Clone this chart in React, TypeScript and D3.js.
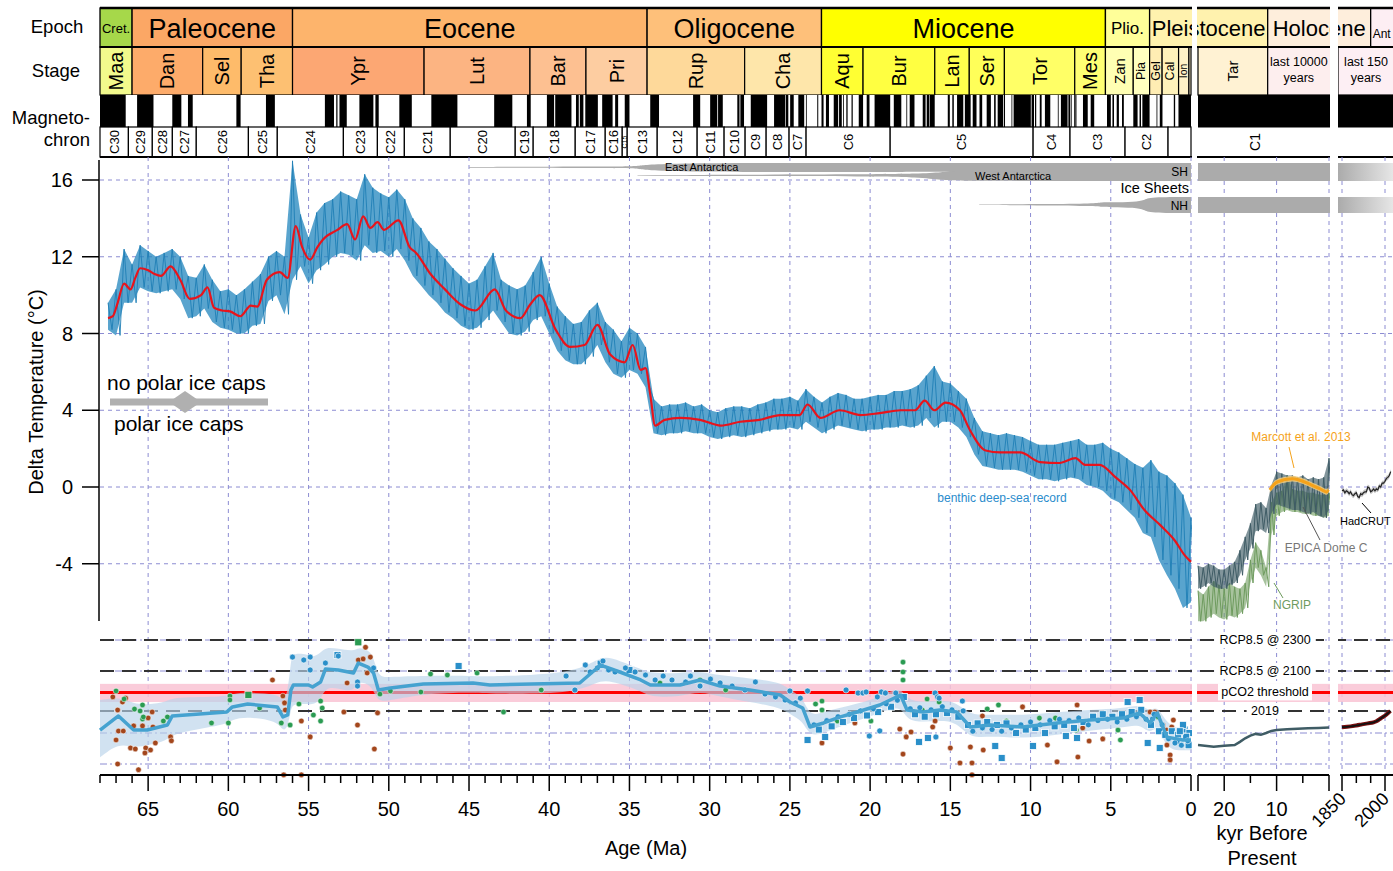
import React from 'react';
import * as d3 from 'd3';

// ================= DATA =================
// Geologic time scale (Ma)
const epochNames = ['Cret.', 'Paleocene', 'Eocene', 'Oligocene', 'Miocene', 'Plio.', 'Pleistocene'];
const epochBounds = [68, 66, 56, 33.9, 23.03, 5.333, 2.58, 0];
const epochColors = ['#a6d84a', '#fba765', '#fdb46c', '#fec07a', '#ffff00', '#ffff99', '#fff2ae'];

const stageNames = ['Maa', 'Dan', 'Sel', 'Tha', 'Ypr', 'Lut', 'Bar', 'Pri', 'Rup', 'Cha', 'Aqu', 'Bur', 'Lan', 'Ser', 'Tor', 'Mes', 'Zan', 'Pia', 'Gel', 'Cal', 'Ion', 'Tar'];
const stageBounds = [68, 66, 61.6, 59.2, 56, 47.8, 41.2, 37.71, 33.9, 27.82, 23.03, 20.44, 15.97, 13.82, 11.63, 7.246, 5.333, 3.6, 2.58, 1.8, 0.774, 0.129, 0];
const stageColors = ['#f2fa8c', '#fdab6a', '#febb6a', '#fdc072', '#fca773', '#fcb482', '#fdc091', '#fdcda1', '#fed99a', '#fee6aa', '#ffff33', '#ffff41', '#ffff4d', '#ffff59', '#ffff66', '#ffff73', '#ffffb3', '#ffffbf', '#ffedb3', '#fff2ba', '#fff2c7', '#fff2d3'];

const chronNames = ['C30', 'C29', 'C28', 'C27', 'C26', 'C25', 'C24', 'C23', 'C22', 'C21', 'C20', 'C19', 'C18', 'C17', 'C16', 'C15', 'C13', 'C12', 'C11', 'C10', 'C9', 'C8', 'C7', 'C6', 'C5', 'C4', 'C3', 'C2', ''];
const chronBounds = [68, 66.23, 64.74, 63.49, 62.0, 58.75, 56.95, 52.83, 50.71, 49.03, 46.17, 42.12, 41.0, 38.38, 36.51, 35.45, 35.14, 33.27, 30.78, 29.1, 27.79, 26.48, 25.05, 23.99, 18.75, 9.84, 7.54, 4.11, 1.43, 0];

// normal polarity intervals [young, old] Ma
const normalPolarity = [
  [0, 0.781], [0.988, 1.072], [1.778, 1.945], [2.128, 2.148], [2.581, 3.032], [3.116, 3.207], [3.33, 3.596], [4.187, 4.3], [4.493, 4.631], [4.799, 4.896], [4.997, 5.235], [6.033, 6.252], [6.436, 6.733], [7.14, 7.212], [7.251, 7.285], [7.454, 7.489], [7.528, 7.642], [7.695, 8.108], [8.254, 8.3], [8.771, 9.105], [9.311, 9.426], [9.647, 9.721], [9.786, 9.937], [9.984, 11.056], [11.146, 11.188], [11.592, 11.657], [11.705, 12.049], [12.174, 12.272], [12.474, 12.735], [13.015, 13.183], [13.369, 13.605], [13.734, 14.095], [14.194, 14.581], [14.784, 14.877], [15.032, 15.16], [15.974, 16.268], [16.303, 16.472], [16.543, 16.721], [17.235, 17.533], [17.717, 17.74], [18.056, 18.524], [18.748, 19.722], [20.04, 20.213], [20.439, 20.709], [21.083, 21.159], [21.403, 21.483], [21.659, 21.688], [21.767, 21.936], [21.992, 22.268], [22.564, 22.754], [22.902, 23.03], [23.233, 23.295], [23.962, 24.0], [24.109, 24.474], [24.761, 24.984], [25.099, 25.264], [25.304, 25.987], [26.42, 27.439], [27.859, 28.087], [28.141, 28.278], [29.183, 29.477], [29.527, 29.97], [30.591, 31.034], [33.157, 33.705], [34.999, 35.294], [35.706, 35.892], [36.051, 36.7], [36.969, 37.753], [37.872, 38.093], [38.159, 38.333], [38.615, 39.627], [39.698, 40.145], [41.154, 41.39], [42.301, 43.432], [45.724, 47.349], [48.566, 49.344], [50.628, 50.835], [50.961, 51.833], [52.62, 53.074], [53.199, 53.274], [53.416, 53.983], [57.101, 57.656], [59.237, 59.5], [62.221, 62.517], [62.93, 63.494], [64.667, 65.688], [66.398, 68.0]
];

// Ice sheets [age Ma, top, bottom] in band units
const eastAntarctica = [[45, 0.22, 0.26], [36, 0.2, 0.28], [34.2, 0.18, 0.3], [33.6, 0, 0.5], [18, 0, 0.5], [16.5, 0, 0.47], [15, 0, 0.5], [0, 0, 0.5]];
const westAntarctica = [[34.5, 0.67, 0.7], [28, 0.65, 0.72], [20, 0.63, 0.74], [17, 0.6, 0.78], [15.5, 0.5, 0.95], [14.5, 0.45, 1], [0, 0.45, 1]];
const northernHemisphere = [[13.2, 0.47, 0.5], [9, 0.44, 0.53], [6, 0.42, 0.56], [5.6, 0.33, 0.62], [5, 0.34, 0.63], [3.5, 0.32, 0.66], [2.9, 0.2, 0.8], [2.6, 0, 1], [0, 0, 1]];

// Benthic deep-sea temperature record (°C), every 0.5 Ma from 67.5 to 0: high and low envelope
const benthicStart = 67.5;
const benthicStep = 0.5;
const benthicHi = [
  9.6, 10.3, 12.4, 11.6, 12.6, 12.3, 12.0, 12.2, 12.4, 12.0,
  11.0, 10.9, 11.6, 10.8, 10.2, 10.3, 10.0, 10.3, 10.7, 11.1,
  12.0, 12.3, 12.0, 17.0, 14.2, 13.0, 14.3, 14.8, 15.0, 15.4,
  15.2, 15.0, 16.3, 15.6, 15.3, 15.1, 15.5, 15.0, 14.0, 13.5,
  12.8, 12.4, 11.9, 11.4, 11.0, 10.6, 10.8, 11.5, 12.2, 10.8,
  10.5, 10.3, 10.5, 11.2, 12.0, 10.6, 9.4, 8.9, 8.5, 8.6,
  9.2, 9.6, 8.6, 8.2, 7.6, 8.3, 8.0, 7.3, 4.6, 4.2,
  4.3, 4.3, 4.4, 4.2, 4.3, 4.0, 3.9, 4.1, 4.2, 4.2,
  4.1, 4.3, 4.4, 4.6, 4.6, 4.7, 4.5, 5.1, 4.7, 4.4,
  4.7, 4.9, 4.8, 4.6, 4.6, 4.7, 4.8, 4.8, 5.0, 5.0,
  5.1, 5.3, 5.8, 6.3, 5.5, 5.4, 5.0, 4.6, 3.6, 2.9,
  2.8, 2.7, 2.8, 2.7, 2.6, 2.4, 2.2, 2.2, 2.2, 2.3,
  2.4, 2.5, 2.2, 2.2, 2.3, 2.0, 1.8, 1.5, 1.2, 1.0,
  1.4, 0.8, 0.6, 0.2, -0.4, -1.6
];
const benthicLo = [
  8.2, 7.9, 9.6, 9.6, 10.4, 10.2, 10.1, 10.2, 10.3, 9.8,
  8.8, 8.9, 9.3, 8.6, 8.3, 8.2, 8.0, 8.0, 8.4, 8.5,
  9.7, 10.0, 9.0, 10.8, 11.5, 10.6, 11.3, 11.6, 12.0, 12.2,
  12.1, 11.8, 12.6, 12.2, 12.3, 12.0, 12.4, 11.8, 11.0, 10.5,
  10.0, 9.6, 9.1, 8.8, 8.4, 8.2, 8.3, 8.7, 9.2, 8.6,
  8.0, 7.9, 8.1, 8.7, 8.9, 8.0, 7.1, 6.6, 6.4, 6.4,
  6.8, 7.4, 6.5, 5.9, 5.7, 6.1, 5.9, 5.2, 2.8, 2.7,
  2.8, 2.8, 2.9, 2.8, 2.8, 2.6, 2.5, 2.6, 2.7, 2.6,
  2.7, 2.8, 2.9, 3.0, 3.0, 3.1, 3.0, 3.4, 3.1, 2.8,
  3.0, 3.2, 3.1, 3.0, 2.9, 3.0, 3.0, 3.1, 3.1, 3.2,
  3.1, 3.2, 3.6, 3.1, 3.4, 3.4, 3.1, 2.6, 1.7, 1.1,
  1.0, 0.9, 0.9, 0.9, 0.8, 0.6, 0.4, 0.4, 0.3, 0.4,
  0.5, 0.4, 0.1, 0.0, -0.2, -0.6, -0.8, -1.2, -1.6, -2.4,
  -2.6, -3.8, -4.6, -5.3, -6.3, -6.0
];

// Smoothed benthic record [age Ma, °C]
const benthicSmooth = [
  [67.5, 8.8], [67.2, 8.9], [66.9, 9.6], [66.5, 10.6], [66.1, 10.3], [65.8, 10.9], [65.5, 11.4], [65.0, 11.3], [64.6, 11.1], [64.2, 11.0], [63.6, 11.5], [63.0, 10.8], [62.4, 9.8], [61.7, 10.0], [61.3, 10.4], [60.9, 9.35], [60.4, 9.2], [59.9, 9.15], [59.25, 8.9], [58.6, 9.45], [58.2, 9.4], [57.6, 10.8], [56.8, 11.2], [56.3, 10.9], [55.8, 13.6], [55.4, 12.5], [54.9, 11.85], [54.45, 12.5], [54.1, 12.9], [53.2, 13.4], [52.6, 13.7], [52.1, 12.9], [51.6, 14.1], [51.15, 13.5], [50.7, 13.8], [50.3, 13.4], [49.4, 13.9], [48.7, 12.5], [48.3, 12.2], [47.4, 11.1], [46.5, 10.3], [45.5, 9.5], [44.6, 9.2], [43.4, 10.3], [42.7, 9.2], [41.8, 8.8], [41.2, 9.5], [40.6, 10.0], [39.6, 8.2], [38.7, 7.3], [37.8, 7.4], [37.0, 8.45], [36.2, 6.9], [35.3, 6.5], [34.8, 7.4], [34.3, 6.1], [34.0, 6.2], [33.7, 4.8], [33.4, 3.2], [32.8, 3.5], [31.8, 3.6], [30.6, 3.5], [29.3, 3.2], [28.1, 3.4], [26.9, 3.5], [25.6, 3.75], [24.4, 3.75], [23.9, 4.3], [23.1, 3.6], [21.9, 4.0], [20.6, 3.75], [19.4, 3.85], [18.1, 4.0], [17.2, 4.0], [16.6, 4.5], [16.0, 4.0], [15.3, 4.4], [14.4, 4.0], [13.8, 3.0], [12.8, 1.9], [11.9, 1.8], [10.65, 1.8], [9.4, 1.3], [8.2, 1.25], [7.2, 1.5], [6.6, 1.15], [5.7, 1.15], [4.7, 0.5], [3.8, -0.15], [2.9, -1.2], [1.9, -2.0], [1.0, -2.8], [0.4, -3.55], [0.0, -3.9]
];

// Last 25 kyr (°C): every 1 kyr from 25 to 0
const kyrStart = 25;
const epicaHi = [-4.1, -4.2, -4.0, -4.1, -4.3, -4.3, -4.1, -3.9, -3.3, -2.6, -1.9, -0.9, -0.8, -1.1, 0.1, 0.8, 0.7, 0.6, 0.6, 0.5, 0.6, 0.4, 0.5, 0.4, 0.5, 1.5];
const epicaLo = [-5.3, -5.2, -5.0, -5.2, -5.3, -5.3, -5.1, -5.0, -4.6, -3.8, -3.2, -2.3, -2.2, -2.4, -1.4, -0.9, -1.0, -1.1, -1.2, -1.2, -1.3, -1.4, -1.3, -1.5, -1.6, -1.2];
const ngripHi = [-5.4, -5.6, -5.2, -4.9, -5.1, -5.3, -5.0, -5.2, -5.3, -5.0, -3.8, -2.9, -3.3, -4.2, -0.8, -0.3, -0.2, 0.6, -0.1, -0.2, -0.2, -0.3, -0.3, -0.4, -0.4, -0.3];
const ngripLo = [-7.0, -7.0, -6.8, -6.6, -6.8, -6.9, -6.7, -6.8, -6.6, -6.3, -5.0, -4.2, -4.6, -5.2, -2.5, -1.5, -1.3, -1.2, -1.3, -1.3, -1.4, -1.4, -1.5, -1.5, -1.6, -1.5];
const marcott = [[11.3, -0.15], [10.5, 0.15], [10, 0.25], [9, 0.35], [8, 0.4], [7, 0.45], [6, 0.4], [5, 0.3], [4, 0.2], [3, 0.05], [2, -0.05], [1, -0.2], [0.4, -0.3], [0.1, -0.15]];

// Instrumental (°C), every 5 years 1850-2020
const hadcrutStart = 1850;
const hadcrut = [-0.2, -0.15, -0.3, -0.2, -0.25, -0.35, -0.25, -0.4, -0.45, -0.35, -0.3, -0.5, -0.55, -0.35, -0.4, -0.3, -0.25, -0.25, 0.0, -0.05, -0.25, -0.2, -0.1, -0.2, -0.1, -0.15, 0.05, 0.0, 0.2, 0.2, 0.3, 0.45, 0.5, 0.6, 0.8];

// CO2 (ppm)
const co2Smooth = [
  [68, 267], [66.85, 366], [65.9, 267], [65.05, 267], [63.8, 299], [63.5, 366], [60.1, 400], [59.75, 448], [58.8, 478], [56.95, 448], [56.6, 358], [56.3, 374], [56.1, 654], [55.95, 731], [55.0, 731], [54.75, 699], [54.25, 782], [53.95, 1044], [53.15, 1023], [52.2, 955], [51.9, 1195], [51.3, 1092], [50.95, 955], [50.65, 654], [49.9, 684], [47.85, 747], [44.75, 765], [43.7, 731], [38.1, 765], [36.8, 1143], [35.6, 978], [34.3, 818], [33.7, 731], [31.85, 731], [30.6, 818], [29.35, 714], [27.5, 654], [25.6, 585], [25.0, 500], [24.2, 437], [23.75, 286], [22.9, 313], [21.85, 358], [20.8, 400], [19.4, 468], [18.1, 585], [17.7, 418], [16.7, 400], [15.65, 418], [14.6, 400], [13.75, 286], [12.5, 299], [10.5, 286], [8.35, 313], [6.3, 334], [4.25, 349], [3.2, 391], [2.55, 313], [2.1, 391], [1.5, 228], [0.5, 214], [0, 214]
];
const co2BandHi = [523, 560, 480, 470, 500, 560, 560, 600, 620, 600, 520, 600, 1300, 1500, 1450, 1350, 1500, 1700, 1650, 1550, 1700, 1600, 1400, 850, 880, 900, 900, 880, 950, 1450, 1250, 1050, 950, 950, 1000, 900, 850, 780, 650, 560, 360, 400, 440, 480, 560, 720, 520, 500, 520, 500, 370, 380, 370, 400, 420, 430, 480, 400, 470, 300, 270, 270];
const co2BandLo = [145, 200, 180, 190, 210, 250, 300, 340, 360, 330, 260, 280, 430, 480, 480, 470, 520, 700, 680, 620, 800, 750, 650, 500, 520, 600, 620, 600, 600, 850, 750, 640, 560, 560, 640, 560, 500, 440, 380, 330, 230, 250, 290, 330, 390, 470, 330, 320, 330, 320, 220, 235, 220, 240, 265, 280, 310, 240, 310, 170, 170, 170];

const paleosolCO2 = [[67.2, 560], [66.9, 418], [66.85, 261], [66.55, 261], [67.0, 214], [66.6, 500], [66.4, 545], [66.1, 179], [65.8, 175], [65.9, 293], [65.15, 179], [65.2, 160], [64.85, 171], [65.35, 293], [64.75, 400], [65.0, 350], [64.7, 286], [64.55, 200], [63.6, 229], [63.55, 210], [66.9, 125], [65.6, 110], [57.25, 818], [56.6, 572], [56.5, 490], [56.45, 418], [55.45, 327], [54.9, 229], [52.6, 765], [51.95, 299], [51.45, 1700], [51.35, 955], [51.9, 1279], [51.6, 1310], [51.15, 1365], [52.8, 400], [50.7, 392], [50.9, 175], [56.55, 98], [55.45, 98], [20.95, 313], [23.0, 200], [18.15, 273], [17.75, 229], [17.45, 256], [17.95, 156], [15.95, 327], [16.1, 286], [15.0, 179], [14.4, 128], [13.65, 128], [13.75, 183], [13.65, 98], [12.95, 171], [13.0, 366], [10.5, 448], [8.95, 191], [8.35, 131], [7.1, 468], [6.75, 280], [6.35, 209], [7.05, 146], [5.5, 219], [2.55, 400], [2.25, 400], [1.75, 299], [1.5, 267], [1.3, 153], [1.3, 137], [1.1, 334], [1.2, 286], [1.5, 191]];
const stomataCO2 = [[67.0, 640], [66.5, 535], [65.85, 427], [65.5, 409], [65.35, 468], [65.35, 342], [65.3, 358], [64.05, 327], [63.8, 358], [61.05, 313], [60.0, 313], [59.9, 572], [59.9, 523], [58.05, 437], [56.7, 313], [56.15, 299], [55.6, 478], [54.7, 374], [54.25, 511], [54.15, 437], [54.25, 327], [50.55, 597], [49.9, 640], [48.0, 625], [47.4, 935], [46.35, 914], [44.5, 955], [42.85, 400], [40.5, 654], [33.1, 765], [30.6, 818], [29.0, 654], [23.4, 478], [23.0, 511], [23.0, 418], [22.05, 327], [19.95, 327], [17.95, 1220], [17.95, 979], [17.95, 818], [17.3, 400], [16.75, 418], [16.45, 535], [15.7, 500], [12.7, 428], [12.0, 468], [11.5, 327], [8.45, 349], [7.15, 267], [4.55, 267], [2.05, 358], [9.45, 349], [4.4, 214]];
const stomataSquares = [[58.75, 585], [51.9, 1900]];
const boronCO2 = [[56.0, 1365], [54.9, 1365], [54.9, 1023], [55.3, 1279], [53.95, 1195], [53.15, 1398], [51.95, 782], [51.95, 714], [50.95, 1070], [38.95, 893], [38.4, 654], [37.75, 1143], [37.45, 978], [37.0, 1070], [36.65, 1250], [36.3, 1023], [35.9, 978], [35.25, 1070], [34.65, 978], [34.0, 914], [33.4, 818], [32.9, 893], [32.35, 818], [31.5, 782], [31.2, 893], [30.6, 714], [29.95, 835], [29.35, 765], [28.6, 714], [27.8, 654], [27.15, 782], [26.55, 598], [25.9, 560], [25.3, 523], [24.65, 490], [24.35, 545], [25.0, 640], [23.9, 640], [21.5, 654], [20.75, 611], [20.45, 611], [20.25, 625], [19.3, 625], [19.05, 611], [19.55, 560], [18.4, 611], [15.95, 611], [15.8, 560], [15.7, 545], [14.25, 511], [20.05, 234], [19.4, 262], [15.9, 229], [2.4, 342], [23.5, 300], [22.7, 330], [22.0, 360], [21.3, 380], [20.6, 410], [19.8, 430], [19.0, 480], [18.3, 520], [17.5, 430], [16.9, 440], [16.2, 420], [15.5, 450], [14.9, 420], [14.2, 410], [13.6, 260], [13.0, 280], [12.4, 270], [11.8, 260], [11.2, 280], [10.6, 300], [10.0, 320], [9.4, 300], [8.8, 330], [8.2, 340], [7.6, 330], [7.0, 350], [6.4, 300], [5.8, 330], [5.2, 340], [4.6, 320], [4.0, 340], [3.4, 360], [2.8, 340], [2.3, 380], [1.8, 300], [1.4, 220], [1.0, 200], [0.6, 190], [0.2, 210]];
const alkenoneCO2 = [[53.2, 1430], [45.65, 1117], [36.8, 1180], [35.0, 1020], [23.9, 214], [22.8, 229], [16.95, 205], [16.4, 224], [12.2, 187], [11.8, 143], [9.85, 187], [7.8, 234], [7.1, 224], [3.95, 500], [3.2, 523], [1.95, 179], [2.7, 200], [23.2, 270], [22.4, 290], [21.7, 320], [21.0, 350], [20.2, 370], [19.5, 400], [18.7, 450], [17.9, 560], [17.2, 380], [16.6, 360], [15.9, 380], [15.2, 390], [14.5, 360], [13.9, 300], [13.3, 310], [12.7, 320], [12.1, 300], [11.5, 310], [10.9, 250], [10.3, 270], [9.7, 280], [9.1, 250], [8.5, 290], [7.9, 300], [7.3, 280], [6.7, 320], [6.1, 360], [5.5, 380], [4.9, 360], [4.3, 380], [3.7, 400], [3.1, 420], [2.5, 300], [2.0, 260], [1.6, 240], [1.2, 260], [0.8, 240], [0.4, 270], [0.1, 250], [0.3, 230], [0.5, 300], [0.7, 260], [0.9, 210], [0.15, 190]];
const epicaCO2 = [[25, 191], [22, 184], [20, 188], [18, 191], [17, 205], [16, 222], [15, 236], [14, 245], [13, 240], [12, 250], [11, 262], [10, 267], [8, 272], [6, 275], [4, 278], [2, 280], [0, 282]];
const modernCO2 = [[1850, 285], [1880, 290], [1900, 296], [1920, 303], [1940, 310], [1960, 317], [1970, 325], [1980, 339], [1990, 354], [2000, 369], [2010, 389], [2019, 410]];

const co2Refs = [
  { label: 'RCP8.5 @ 2300', ppm: 2000 },
  { label: 'RCP8.5 @ 2100', ppm: 1000 },
  { label: '2019', ppm: 410 },
];
const co2Threshold = 620;
const co2ThresholdBand = [500, 750];

const tempTicks = [16, 12, 8, 4, 0, -4];
const maLabels = [65, 60, 55, 50, 45, 40, 35, 30, 25, 20, 15, 10, 5, 0];
const kyrLabels = [20, 10];
const yearLabels = [1850, 2000];

// ================= CHART =================
const FONT = 'Liberation Sans, Arial, Helvetica, sans-serif';

export default function App() {
  const xMa = d3.scaleLinear().domain([68, 0]).range([100, 1191]);
  const xKyr = d3.scaleLinear().domain([25, 0]).range([1198, 1329]);
  const xYr = d3.scaleLinear().domain([1850, 2000]).range([1342, 1385]);
  const yT = d3.scaleLinear().domain([0, 16]).range([487, 180]);
  const yC = d3.scaleLog().base(2).domain([125, 2000]).range([764, 640]);
  const iceSH = d3.scaleLinear().domain([0, 1]).range([163, 181]);
  const iceNH = d3.scaleLinear().domain([0, 1]).range([197, 213]);

  const P2L = 1198, P2R = 1330, P3L = 1338, RIGHT = 1393;
  const grid = '#8c8cd2';

  // header rows
  const EY0 = 8, EY1 = 47, SY1 = 95, PY1 = 127, CY1 = 157;

  const zig = (ages: number[], hi: number[], lo: number[], half: number) => {
    const pts: number[][] = [];
    ages.forEach((a, i) => { pts.push([a, hi[i]]); pts.push([a - half, lo[i]]); });
    return pts;
  };
  const benthicAges = benthicHi.map((_, i) => benthicStart - i * benthicStep);
  const benthicPts = zig(benthicAges, benthicHi, benthicLo, benthicStep / 2);
  const kyrAges = epicaHi.map((_, i) => kyrStart - i);
  const epicaPts = zig(kyrAges, epicaHi, epicaLo, 0.5);
  const ngripPts = zig(kyrAges, ngripHi, ngripLo, 0.5);
  const hadYears = hadcrut.map((_, i) => hadcrutStart + i * 5);

  const lineMa = d3.line<number[]>().x(d => xMa(d[0])).y(d => yT(d[1]));
  const lineKyr = d3.line<number[]>().x(d => xKyr(d[0])).y(d => yT(d[1]));
  const benthicBand = d3.area<number>().x((_, i) => xMa(benthicAges[i])).y0((_, i) => yT(benthicLo[i])).y1(d => yT(d));
  const kyrBand = (hi: number[], lo: number[]) => d3.area<number>().x((_, i) => xKyr(kyrAges[i])).y0((_, i) => yT(lo[i])).y1((_, i) => yT(hi[i]))(hi) || '';
  const smoothMa = d3.line<number[]>().x(d => xMa(d[0])).y(d => yT(d[1])).curve(d3.curveMonotoneX);
  const marcottLine = d3.line<number[]>().x(d => xKyr(d[0])).y(d => yT(d[1])).curve(d3.curveBasis);
  const marcottBand = d3.area<number[]>().x(d => xKyr(d[0])).y0(d => yT(d[1] - 0.15)).y1(d => yT(d[1] + 0.15)).curve(d3.curveBasis);
  const hadLine = d3.line<number>().x((_, i) => xYr(hadYears[i])).y(d => yT(d));
  const hadBand = d3.area<number>().x((_, i) => xYr(hadYears[i])).y0(d => yT(d - 0.13)).y1(d => yT(d + 0.13));

  const iceArea = (sc: any) => d3.area<number[]>().x(d => xMa(d[0])).y0(d => sc(d[1])).y1(d => sc(d[2])).curve(d3.curveBasis);

  const co2Line = d3.line<number[]>().x(d => xMa(d[0])).y(d => yC(d[1]));
  const co2Band = d3.area<number[]>().x(d => xMa(d[0])).y0((_, i) => yC(co2BandLo[i])).y1((_, i) => yC(co2BandHi[i])).curve(d3.curveBasis);
  const epicaCO2Line = d3.line<number[]>().x(d => xKyr(d[0])).y(d => yC(d[1]));
  const modernCO2Line = d3.line<number[]>().x(d => xYr(d[0])).y(d => yC(d[1])).curve(d3.curveMonotoneX);

  const epochFont = (n: string) => (n === 'Cret.' ? 13 : n === 'Plio.' ? 17 : n === 'Pleistocene' ? 22 : 27);
  const stageFont = (w: number, n: string) => (n === 'Tar' ? 15 : w >= 30 ? 20 : w >= 20 ? 15 : Math.min(12.5, w));

  const rot = (x: number, y: number, text: string, size: number, key: string) => (
    <text key={key} transform={`translate(${x},${y}) rotate(-90)`} textAnchor="middle" dominantBaseline="central" fontSize={size}>{text}</text>
  );

  return (
    <svg width={1393} height={871} style={{ position: 'absolute', left: 0, top: 0, background: '#fff' }} fontFamily={FONT}>
      <rect x={0} y={0} width={1393} height={871} fill="#fff" />

      {/* ===== Header: Epoch ===== */}
      {epochNames.map((n, i) => {
        const x0 = xMa(epochBounds[i]);
        const x1 = n === 'Pleistocene' ? xKyr(11.7) : xMa(epochBounds[i + 1]);
        return <rect key={'e' + i} x={x0} y={EY0} width={x1 - x0} height={EY1 - EY0} fill={epochColors[i]} stroke="#000" strokeWidth={1.3} />;
      })}
      <rect x={xKyr(11.7)} y={EY0} width={xYr(1950) - xKyr(11.7)} height={EY1 - EY0} fill="#feeedc" stroke="#000" strokeWidth={1.3} />
      <rect x={xYr(1950)} y={EY0} width={RIGHT + 5 - xYr(1950)} height={EY1 - EY0} fill="#fdeef3" stroke="#000" strokeWidth={1.3} />
      {epochNames.map((n, i) => {
        const x0 = xMa(epochBounds[i]);
        const x1 = n === 'Pleistocene' ? xKyr(11.7) : xMa(epochBounds[i + 1]);
        return <text key={'et' + i} x={(x0 + x1) / 2} y={(EY0 + EY1) / 2 + 1} textAnchor="middle" dominantBaseline="central" fontSize={epochFont(n)}>{n}</text>;
      })}
      <text x={(xKyr(11.7) + xYr(1950)) / 2} y={(EY0 + EY1) / 2 + 1} textAnchor="middle" dominantBaseline="central" fontSize={22}>Holocene</text>
      <text x={xYr(1950) + 2} y={38} fontSize={12}>Ant</text>

      {/* ===== Header: Stage ===== */}
      {stageNames.map((n, i) => {
        const x0 = xMa(stageBounds[i]);
        const x1 = xMa(stageBounds[i + 1]);
        return <rect key={'s' + i} x={x0} y={EY1} width={x1 - x0} height={SY1 - EY1} fill={stageColors[i]} stroke="#000" strokeWidth={1.2} />;
      })}
      {stageNames.map((n, i) => {
        const x0 = xMa(stageBounds[i]);
        const x1 = xMa(stageBounds[i + 1]);
        const w = x1 - x0;
        if (w < 8) return null;
        return rot((x0 + x1) / 2, (EY1 + SY1) / 2, n, stageFont(w, n), 'st' + i);
      })}
      <rect x={P2L} y={EY1} width={xKyr(11.7) - P2L} height={SY1 - EY1} fill="#fff2d3" stroke="#000" strokeWidth={1.2} />
      {rot((P2L + xKyr(11.7)) / 2, (EY1 + SY1) / 2, 'Tar', 15, 'tar2')}
      <rect x={xKyr(11.7)} y={EY1} width={P3L - xKyr(11.7)} height={SY1 - EY1} fill="#fdeeee" stroke="#000" strokeWidth={1.2} />
      <text x={(xKyr(11.7) + P2R) / 2} y={66} textAnchor="middle" fontSize={12.5}>last 10000</text>
      <text x={(xKyr(11.7) + P2R) / 2} y={82} textAnchor="middle" fontSize={12.5}>years</text>
      <rect x={P3L} y={EY1} width={RIGHT + 5 - P3L} height={SY1 - EY1} fill="#fdeff4" stroke="#000" strokeWidth={1.2} />
      <text x={1366} y={66} textAnchor="middle" fontSize={12.5}>last 150</text>
      <text x={1366} y={82} textAnchor="middle" fontSize={12.5}>years</text>

      {/* ===== Header: Polarity ===== */}
      <rect x={xMa(68)} y={SY1} width={xMa(0) - xMa(68)} height={PY1 - SY1} fill="#fff" />
      {normalPolarity.map((p, i) => (
        <rect key={'p' + i} x={xMa(p[1])} y={SY1} width={Math.max(0.8, xMa(p[0]) - xMa(p[1]))} height={PY1 - SY1} fill="#000" />
      ))}
      <rect x={P2L} y={SY1} width={RIGHT - P2L} height={PY1 - SY1} fill="#000" />

      {/* ===== Header: Chron labels ===== */}
      {chronNames.map((n, i) => {
        const x0 = xMa(chronBounds[i]);
        const x1 = xMa(chronBounds[i + 1]);
        return (
          <g key={'c' + i}>
            <rect x={x0} y={PY1} width={x1 - x0} height={CY1 - PY1} fill="#fff" stroke="#000" strokeWidth={1.2} />
            {n ? rot((x0 + x1) / 2, 142, n, x1 - x0 < 8 ? 7 : 13, 'ct' + i) : null}
          </g>
        );
      })}
      {rot(1255, 142, 'C1', 14, 'c1')}
      <line x1={100} x2={RIGHT} y1={EY0} y2={EY0} stroke="#000" strokeWidth={2.5} />
      <line x1={100} x2={RIGHT} y1={EY1} y2={EY1} stroke="#000" strokeWidth={2} />
      <line x1={P2L} x2={RIGHT} y1={PY1} y2={PY1} stroke="#000" strokeWidth={1} />
      <line x1={100} x2={RIGHT} y1={CY1} y2={CY1} stroke="#000" strokeWidth={2} />

      {/* header row titles */}
      <text x={57} y={33} textAnchor="middle" fontSize={18.5}>Epoch</text>
      <text x={56} y={77} textAnchor="middle" fontSize={18.5}>Stage</text>
      <text x={90} y={124} textAnchor="end" fontSize={18.5}>Magneto-</text>
      <text x={90} y={146} textAnchor="end" fontSize={18.5}>chron</text>

      {/* ===== Gridlines ===== */}
      {maLabels.map(a => <line key={'gv' + a} x1={xMa(a)} x2={xMa(a)} y1={CY1} y2={770} stroke={grid} strokeWidth={1} strokeDasharray="4,4" />)}
      {[20, 10, 0].map(a => <line key={'gk' + a} x1={xKyr(a)} x2={xKyr(a)} y1={CY1} y2={770} stroke={grid} strokeWidth={1} strokeDasharray="4,4" />)}
      {yearLabels.map(a => <line key={'gy' + a} x1={xYr(a)} x2={xYr(a)} y1={CY1} y2={770} stroke={grid} strokeWidth={1} strokeDasharray="4,4" />)}
      {tempTicks.map(t => <line key={'gh' + t} x1={100} x2={RIGHT} y1={yT(t)} y2={yT(t)} stroke={grid} strokeWidth={1} strokeDasharray="4,4" />)}
      {[2000, 1000, 250, 125].map(c => <line key={'gc' + c} x1={100} x2={RIGHT} y1={yC(c)} y2={yC(c)} stroke={grid} strokeWidth={1} strokeDasharray="7,3,2,3" />)}

      {/* ===== Ice sheets ===== */}
      <defs>
        <linearGradient id="iceFade" x1="0" x2="1" y1="0" y2="0">
          <stop offset="0" stopColor="#ababab" />
          <stop offset="1" stopColor="#e6e6e6" />
        </linearGradient>
      </defs>
      <path d={iceArea(iceSH)(eastAntarctica) || ''} fill="#ababab" />
      <path d={iceArea(iceSH)(westAntarctica) || ''} fill="#ababab" />
      <path d={iceArea(iceNH)(northernHemisphere) || ''} fill="#ababab" />
      <rect x={P2L} y={iceSH(0)} width={P2R - P2L} height={iceSH(1) - iceSH(0)} fill="#ababab" />
      <rect x={P2L} y={iceNH(0)} width={P2R - P2L} height={iceNH(1) - iceNH(0)} fill="#ababab" />
      <rect x={P3L} y={iceSH(0)} width={RIGHT - P3L} height={iceSH(1) - iceSH(0)} fill="url(#iceFade)" />
      <rect x={P3L} y={iceNH(0)} width={RIGHT - P3L} height={iceNH(1) - iceNH(0)} fill="url(#iceFade)" />
      <text x={665} y={171} fontSize={11}>East Antarctica</text>
      <text x={975} y={179.5} fontSize={11}>West Antarctica</text>
      <text x={1188} y={176} textAnchor="end" fontSize={12}>SH</text>
      <text x={1189} y={193} textAnchor="end" fontSize={14.5}>Ice Sheets</text>
      <text x={1188} y={210} textAnchor="end" fontSize={12}>NH</text>

      {/* ===== Temperature ===== */}
      <path d={benthicBand(benthicHi) || ''} fill="#2185bd" opacity={0.75} />
      <path d={lineMa(benthicPts) || ''} fill="none" stroke="#1f7fb6" strokeWidth={0.9} strokeLinejoin="round" />
      <path d={smoothMa(benthicSmooth) || ''} fill="none" stroke="#e8141c" strokeWidth={2.2} />
      <path d={kyrBand(ngripHi, ngripLo)} fill="#6e9b5e" opacity={0.6} />
      <path d={lineKyr(ngripPts) || ''} fill="none" stroke="#6e9b5e" strokeWidth={1} />
      <path d={kyrBand(epicaHi, epicaLo)} fill="#3f5c65" opacity={0.65} />
      <path d={lineKyr(epicaPts) || ''} fill="none" stroke="#3f5c65" strokeWidth={1} />
      <path d={marcottBand(marcott) || ''} fill="#fbd27d" opacity={0.8} />
      <path d={marcottLine(marcott) || ''} fill="none" stroke="#f5a21a" strokeWidth={3} />
      <path d={hadBand(hadcrut) || ''} fill="#b5b5b5" opacity={0.8} />
      <path d={hadLine(hadcrut) || ''} fill="none" stroke="#222" strokeWidth={1.2} />

      <text x={1002} y={502} textAnchor="middle" fontSize={12} fill="#2a8ccc" stroke="#fff" strokeWidth={3} paintOrder="stroke">benthic deep-sea record</text>

      {/* temperature axis */}
      <line x1={99} x2={99} y1={160} y2={621} stroke="#000" strokeWidth={1.5} />
      {tempTicks.map(t => (
        <g key={'tt' + t}>
          <line x1={82} x2={99} y1={yT(t)} y2={yT(t)} stroke="#000" strokeWidth={1.5} />
          <text x={73} y={yT(t)} textAnchor="end" dominantBaseline="central" fontSize={20}>{t}</text>
        </g>
      ))}
      <text transform={`translate(36,392) rotate(-90)`} textAnchor="middle" dominantBaseline="central" fontSize={20}>Delta Temperature (°C)</text>

      {/* polar ice caps marker */}
      <text x={107} y={390} fontSize={21}>no polar ice caps</text>
      <line x1={110} x2={268} y1={402} y2={402} stroke="#b0b0b0" strokeWidth={7} />
      <path d="M169,402 L185,391 L201,402 L185,413 Z" fill="#b0b0b0" />
      <text x={114} y={431} fontSize={21}>polar ice caps</text>

      {/* ===== CO2 panel ===== */}
      <rect x={100} y={yC(co2ThresholdBand[1])} width={RIGHT - 100} height={yC(co2ThresholdBand[0]) - yC(co2ThresholdBand[1])} fill="#f9c3d3" opacity={0.85} />
      <line x1={100} x2={RIGHT} y1={yC(co2Threshold)} y2={yC(co2Threshold)} stroke="#f00" strokeWidth={3} />
      {co2Refs.map(r => <line key={'r' + r.ppm} x1={100} x2={RIGHT} y1={yC(r.ppm)} y2={yC(r.ppm)} stroke="#333" strokeWidth={2} strokeDasharray="14,8" />)}

      <path d={co2Band(co2Smooth) || ''} fill="#b8d3ea" opacity={0.65} />
      {paleosolCO2.map((d, i) => <circle key={'pb' + i} cx={xMa(d[0])} cy={yC(d[1])} r={2.8} fill="#a3461c" stroke="#fff" strokeWidth={0.5} />)}
      {stomataCO2.map((d, i) => <circle key={'sg' + i} cx={xMa(d[0])} cy={yC(d[1])} r={2.8} fill="#2a9b52" stroke="#fff" strokeWidth={0.5} />)}
      {stomataSquares.map((d, i) => <rect key={'sq' + i} x={xMa(d[0]) - 3.5} y={yC(d[1]) - 3.5} width={7} height={7} fill="#2a9b52" stroke="#fff" strokeWidth={0.6} />)}
      {alkenoneCO2.map((d, i) => <rect key={'ak' + i} x={xMa(d[0]) - 3.5} y={yC(d[1]) - 3.5} width={7} height={7} fill="#2a8fc9" stroke="#fff" strokeWidth={0.8} />)}
      {boronCO2.map((d, i) => <circle key={'bo' + i} cx={xMa(d[0])} cy={yC(d[1])} r={3} fill="#2a8fc9" stroke="#fff" strokeWidth={0.6} />)}
      <path d={co2Line(co2Smooth) || ''} fill="none" stroke="#45a2d0" strokeWidth={3.5} strokeLinejoin="round" />
      <path d={epicaCO2Line(epicaCO2) || ''} fill="none" stroke="#3f5c65" strokeWidth={2.5} />
      <path d={modernCO2Line(modernCO2) || ''} fill="none" stroke="#7a1010" strokeWidth={4} />
      <path d={modernCO2Line(modernCO2) || ''} fill="none" stroke="#111" strokeWidth={1.8} />

      {/* CO2 reference labels */}
      {co2Refs.map(r => (
        <g key={'rl' + r.ppm}>
          <rect x={1265 - (r.label.length * 7.2 + 8) / 2} y={yC(r.ppm) - 8} width={r.label.length * 7.2 + 8} height={16} fill="#fff" />
          <text x={1265} y={yC(r.ppm)} textAnchor="middle" dominantBaseline="central" fontSize={12.5}>{r.label}</text>
        </g>
      ))}
      <rect x={1218} y={yC(co2Threshold) - 9} width={94} height={17} fill="#fff" />
      <text x={1265} y={yC(co2Threshold)} textAnchor="middle" dominantBaseline="central" fontSize={12.5}>pCO2 threshold</text>

      {/* ===== Panel gaps ===== */}
      <rect x={1192} y={0} width={P2L - 1193} height={797} fill="#fff" />
      <rect x={P2R} y={0} width={P3L - P2R} height={797} fill="#fff" />

      {/* record labels drawn across gaps */}
      <text x={1301} y={441} textAnchor="middle" fontSize={12} fill="#f5a21a" stroke="#fff" strokeWidth={3} paintOrder="stroke">Marcott et al. 2013</text>
      <line x1={1289} y1={447} x2={1294} y2={468} stroke="#f5a21a" strokeWidth={1} />
      <text x={1326} y={552} textAnchor="middle" fontSize={12} fill="#777" stroke="#fff" strokeWidth={3} paintOrder="stroke">EPICA Dome C</text>
      <line x1={1303} y1={507} x2={1320} y2={540} stroke="#555" strokeWidth={1} />
      <text x={1292} y={609} textAnchor="middle" fontSize={12} fill="#6e9b5e" stroke="#fff" strokeWidth={3} paintOrder="stroke">NGRIP</text>
      <line x1={1274} y1={583} x2={1283} y2={598} stroke="#6e9b5e" strokeWidth={1} />
      <text x={1340} y={525} fontSize={11} fill="#000">HadCRUT</text>
      <line x1={1362} y1={503} x2={1371} y2={513} stroke="#000" strokeWidth={1} />

      {/* ===== Bottom axes ===== */}
      <line x1={xMa(68)} x2={xMa(0)} y1={775} y2={775} stroke="#000" strokeWidth={2} />
      {d3.range(0, 69).map(a => (
        <line key={'mt' + a} x1={xMa(a)} x2={xMa(a)} y1={775} y2={a % 5 === 0 ? 791 : 783} stroke="#000" strokeWidth={1.5} />
      ))}
      {maLabels.map(a => <text key={'ml' + a} x={xMa(a)} y={816} textAnchor="middle" fontSize={20}>{a}</text>)}
      <text x={646} y={855} textAnchor="middle" fontSize={20}>Age (Ma)</text>

      <line x1={P2L} x2={xKyr(0)} y1={775} y2={775} stroke="#000" strokeWidth={2} />
      {[25, 20, 15, 10, 5, 0].map(a => (
        <line key={'kt' + a} x1={xKyr(a)} x2={xKyr(a)} y1={775} y2={a % 10 === 0 || a === 25 ? 791 : 783} stroke="#000" strokeWidth={1.5} />
      ))}
      {kyrLabels.map(a => <text key={'kl' + a} x={xKyr(a)} y={816} textAnchor="middle" fontSize={20}>{a}</text>)}
      <text x={1262} y={840} textAnchor="middle" fontSize={20}>kyr Before</text>
      <text x={1262} y={865} textAnchor="middle" fontSize={20}>Present</text>

      <line x1={P3L + 2} x2={RIGHT} y1={775} y2={775} stroke="#000" strokeWidth={2} />
      {[1850, 1900, 1950, 2000].map(a => (
        <line key={'yt' + a} x1={xYr(a)} x2={xYr(a)} y1={775} y2={a === 1850 || a === 2000 ? 791 : 783} stroke="#000" strokeWidth={1.5} />
      ))}
      {yearLabels.map(a => (
        <text key={'yl' + a} transform={`translate(${xYr(a) + 5},${800}) rotate(-45)`} textAnchor="end" fontSize={18}>{a}</text>
      ))}
    </svg>
  );
}
